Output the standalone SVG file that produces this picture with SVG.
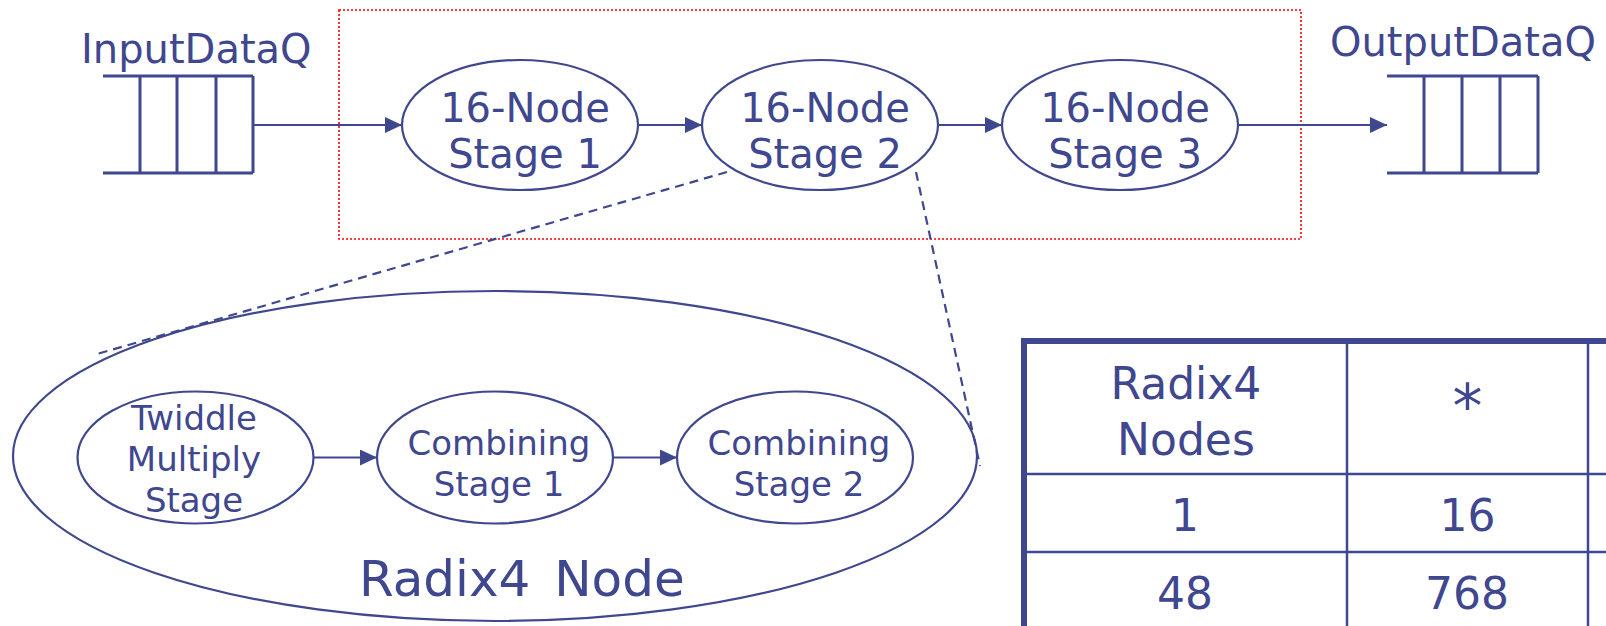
<svg xmlns="http://www.w3.org/2000/svg" width="1606" height="626" viewBox="0 0 1606 626">
  <defs>
    <style>
      .lbl { font-family: "DejaVu Sans", "Liberation Sans", sans-serif; fill: #3f478f; }
      .big { font-size: 40px; text-anchor: middle; }
      .mid { font-size: 34px; text-anchor: middle; }
      .tbl { font-size: 44px; text-anchor: middle; }
      .node { fill: #ffffff; stroke: #3f478f; stroke-width: 2.2; }
      .q { fill: none; stroke: #3f478f; stroke-width: 3; }
      .edge { fill: none; stroke: #3f478f; stroke-width: 2.2; }
      .zoomline { fill: none; stroke: #3f478f; stroke-width: 2.2; stroke-dasharray: 9 6; }
      .grid { fill: none; stroke: #3f478f; }
    </style>
    <marker id="arrow" markerUnits="userSpaceOnUse" markerWidth="18" markerHeight="16" refX="17" refY="8" orient="auto">
      <path d="M0,0 L17,8 L0,16 z" fill="#3f478f"/>
    </marker>
  </defs>

  <rect width="1606" height="626" fill="#ffffff"/>

  <!-- pipeline boundary -->
  <rect id="pipeline-box" x="339" y="10" width="962" height="229" fill="none" stroke="#ff0000" stroke-width="1.6" stroke-dasharray="2 2"/>

  <!-- input queue -->
  <g id="input-queue">
    <text class="lbl" x="81" y="63" font-size="40">InputDataQ</text>
    <path class="q" d="M103,76 H253 M103,173 H253 M140,76 V173 M177,76 V173 M216,76 V173 M253,76 V173"/>
  </g>

  <!-- output queue -->
  <g id="output-queue">
    <text class="lbl" x="1330" y="56" font-size="40">OutputDataQ</text>
    <path class="q" d="M1387,76 H1538 M1387,173 H1538 M1424,76 V173 M1462,76 V173 M1500,76 V173 M1538,76 V173"/>
  </g>

  <!-- top-level stages -->
  <g id="stage1">
    <ellipse class="node" cx="520" cy="125" rx="118" ry="65"/>
    <text class="lbl big" x="525" y="122">16-Node</text>
    <text class="lbl big" x="525" y="168">Stage 1</text>
  </g>
  <g id="stage2">
    <ellipse class="node" cx="820" cy="125" rx="118" ry="65"/>
    <text class="lbl big" x="825" y="122">16-Node</text>
    <text class="lbl big" x="825" y="168">Stage 2</text>
  </g>
  <g id="stage3">
    <ellipse class="node" cx="1120" cy="125" rx="118" ry="65"/>
    <text class="lbl big" x="1125" y="122">16-Node</text>
    <text class="lbl big" x="1125" y="168">Stage 3</text>
  </g>

  <!-- expanded radix-4 node -->
  <g id="radix4-node">
    <ellipse class="node" cx="495" cy="456" rx="482" ry="165"/>
    <text class="lbl" x="359" y="596" font-size="50" word-spacing="8">Radix4 Node</text>
  </g>
  <g id="twiddle">
    <ellipse class="node" cx="195.5" cy="457.5" rx="118" ry="66"/>
    <text class="lbl mid" x="194" y="430">Twiddle</text>
    <text class="lbl mid" x="194" y="471">Multiply</text>
    <text class="lbl mid" x="194" y="512">Stage</text>
  </g>
  <g id="combining1">
    <ellipse class="node" cx="495" cy="457.5" rx="118" ry="66"/>
    <text class="lbl mid" x="499" y="455">Combining</text>
    <text class="lbl mid" x="499" y="496">Stage 1</text>
  </g>
  <g id="combining2">
    <ellipse class="node" cx="795" cy="457.5" rx="118" ry="66"/>
    <text class="lbl mid" x="799" y="455">Combining</text>
    <text class="lbl mid" x="799" y="496">Stage 2</text>
  </g>

  <!-- connectors -->
  <g id="connectors">
    <line class="edge" x1="253" y1="125" x2="402" y2="125" marker-end="url(#arrow)"/>
    <line class="edge" x1="638" y1="125" x2="702" y2="125" marker-end="url(#arrow)"/>
    <line class="edge" x1="938" y1="125" x2="1002" y2="125" marker-end="url(#arrow)"/>
    <line class="edge" x1="1238" y1="125" x2="1387" y2="125" marker-end="url(#arrow)"/>
    <line class="edge" x1="313.5" y1="457.5" x2="377" y2="457.5" marker-end="url(#arrow)"/>
    <line class="edge" x1="613" y1="457.5" x2="677" y2="457.5" marker-end="url(#arrow)"/>
    <line class="zoomline" x1="727" y1="172" x2="97" y2="354"/>
    <line class="zoomline" x1="916" y1="172" x2="980" y2="466"/>
  </g>

  <!-- cost table -->
  <g id="cost-table">
    <path class="grid" stroke-width="6" d="M1021,341 H1606 M1024,338 V626"/>
    <path class="grid" stroke-width="2.5" d="M1347,344 V626 M1588,344 V626 M1027,474 H1606 M1027,552 H1606"/>
    <text class="lbl tbl" x="1186" y="399">Radix4</text>
    <text class="lbl tbl" x="1186" y="455">Nodes</text>
    <text class="lbl" x="1467.5" y="427" font-size="60" text-anchor="middle">*</text>
    <text class="lbl tbl" x="1185" y="531">1</text>
    <text class="lbl tbl" x="1467.5" y="531">16</text>
    <text class="lbl tbl" x="1185" y="609">48</text>
    <text class="lbl tbl" x="1467" y="609">768</text>
  </g>
</svg>
